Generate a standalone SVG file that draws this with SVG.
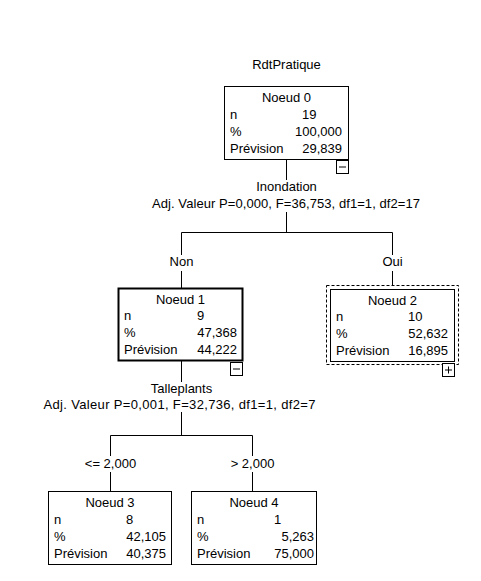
<svg xmlns="http://www.w3.org/2000/svg" width="481" height="581" viewBox="0 0 481 581">
<style>
text{font-family:"Liberation Sans",Arial,sans-serif;font-size:13px;fill:#000}
.c{text-anchor:middle}
.e{text-anchor:end}
.box{fill:#fff;stroke:#000;stroke-width:1}
.sel{fill:#fff;stroke:#000;stroke-width:2}
.dash{fill:none;stroke:#000;stroke-width:1;stroke-dasharray:3,2}
.tg{fill:#fff;stroke:#000;stroke-width:1}
.ln{fill:none;stroke:#000;stroke-width:1}
</style>
<rect width="481" height="581" fill="#fff"/>
<text class="c" x="286.5" y="69">RdtPratique</text>
<g id="connectors">
<path class="ln" d="M286.5 160V180M286.5 212V232.5M181.5 232.5H392.5M181.5 232.5V255M392.5 232.5V255M181.5 271V288M392.5 271V285.5"/>
<path class="ln" d="M181.5 361V382M181.5 412V435.5M110.5 435.5H252.5M110.5 435.5V456M252.5 435.5V456M110.5 472V491.5M252.5 472V491.5"/>
<text class="c" x="286.5" y="191">Inondation</text>
<text class="c" x="286" y="208" textLength="268" lengthAdjust="spacing">Adj. Valeur P=0,000, F=36,753, df1=1, df2=17</text>
<text class="c" x="181.5" y="266">Non</text>
<text class="c" x="392.5" y="266">Oui</text>
<text class="c" x="181.5" y="393">Talleplants</text>
<text class="c" x="179.5" y="409" textLength="272" lengthAdjust="spacing">Adj. Valeur P=0,001, F=32,736, df1=1, df2=7</text>
<text class="c" x="110.5" y="468">&lt;= 2,000</text>
<text class="c" x="252.5" y="468">&gt; 2,000</text>
</g>
<g id="node0">
<rect class="box" x="224.5" y="86.5" width="124" height="73"/>
<text class="c" x="286.5" y="102">Noeud 0</text>
<text x="230" y="118.5">n</text><text x="302" y="118.5">19</text>
<text x="230" y="135.5">%</text><text class="e" x="342" y="135.5">100,000</text>
<text x="230" y="152.5">Prévision</text><text class="e" x="342" y="152.5">29,839</text>
<rect class="tg" x="336.5" y="160.5" width="12" height="13"/>
<path class="ln" d="M339 167H346"/>
</g>
<g id="node1">
<rect class="sel" x="118.5" y="288.5" width="124" height="72"/>
<text class="c" x="180.5" y="303.5">Noeud 1</text>
<text x="124" y="320">n</text><text x="197" y="320">9</text>
<text x="124" y="337">%</text><text class="e" x="237" y="337">47,368</text>
<text x="124" y="354">Prévision</text><text class="e" x="237" y="354">44,222</text>
<rect class="tg" x="230.5" y="362.5" width="12" height="13"/>
<path class="ln" d="M233 369H240"/>
</g>
<g id="node2">
<rect class="dash" x="326.5" y="285.5" width="132" height="79"/>
<rect class="box" x="330.5" y="289.5" width="124" height="72"/>
<text class="c" x="392.5" y="304.5">Noeud 2</text>
<text x="336" y="321">n</text><text x="408" y="321">10</text>
<text x="336" y="338">%</text><text class="e" x="448" y="338">52,632</text>
<text x="336" y="355">Prévision</text><text class="e" x="448" y="355">16,895</text>
<rect class="tg" x="442.5" y="363.5" width="12" height="13"/>
<path class="ln" d="M445 370H452M448.5 366.5V373.5"/>
</g>
<g id="node3">
<rect class="box" x="48.5" y="491.5" width="123" height="73"/>
<text class="c" x="110" y="507">Noeud 3</text>
<text x="54" y="523.5">n</text><text x="126" y="523.5">8</text>
<text x="54" y="540.5">%</text><text class="e" x="166" y="540.5">42,105</text>
<text x="54" y="557.5">Prévision</text><text class="e" x="166" y="557.5">40,375</text>
</g>
<g id="node4">
<rect class="box" x="191.5" y="491.5" width="125" height="73"/>
<text class="c" x="254" y="507">Noeud 4</text>
<text x="197" y="523.5">n</text><text x="274" y="523.5">1</text>
<text x="197" y="540.5">%</text><text class="e" x="314" y="540.5">5,263</text>
<text x="197" y="557.5">Prévision</text><text class="e" x="314" y="557.5">75,000</text>
</g>
</svg>
